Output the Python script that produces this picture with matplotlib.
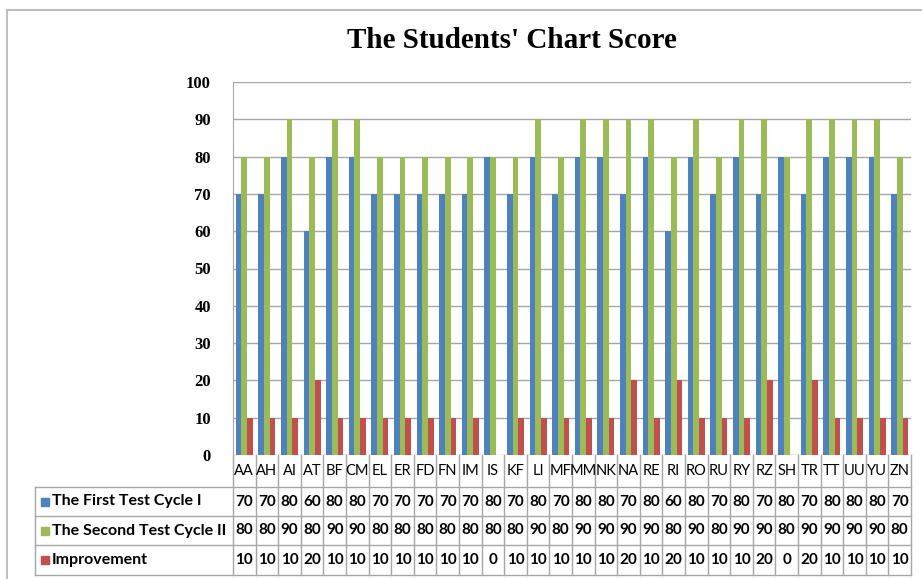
import matplotlib.pyplot as plt
import numpy as np

students = ['AA', 'AH', 'AI', 'AT', 'BF', 'CM', 'EL', 'ER', 'FD', 'FN',
            'IM', 'IS', 'KF', 'LI', 'MF', 'MM', 'NK', 'NA', 'RE', 'RI',
            'RO', 'RU', 'RY', 'RZ', 'SH', 'TR', 'TT', 'UU', 'YU', 'ZN']
first_cycle = [70, 70, 80, 60, 80, 80, 70, 70, 70, 70,
               70, 80, 70, 80, 70, 80, 80, 70, 80, 60,
               80, 70, 80, 70, 80, 70, 80, 80, 80, 70]
second_cycle = [80, 80, 90, 80, 90, 90, 80, 80, 80, 80,
                80, 80, 80, 90, 80, 90, 90, 90, 90, 80,
                90, 80, 90, 90, 80, 90, 90, 90, 90, 80]
improvement = [10, 10, 10, 20, 10, 10, 10, 10, 10, 10,
               10, 0, 10, 10, 10, 10, 10, 20, 10, 20,
               10, 10, 10, 20, 0, 20, 10, 10, 10, 10]
series_names = ['The First Test Cycle I', 'The Second Test Cycle II', 'Improvement']
colors = ['#4F81BD', '#9BBB59', '#C0504D']

W, H = 922, 579
fig = plt.figure(figsize=(W / 100, H / 100), dpi=100)

# chart border (top and left only visible)
fig.add_artist(plt.Line2D([7 / W, 7 / W], [0, 1 - 10 / H], color='#bfbfbf', lw=1.5))
fig.add_artist(plt.Line2D([7 / W, 1], [1 - 10 / H, 1 - 10 / H], color='#bfbfbf', lw=1.5))

left, right = 233 / W, 911 / W
ax = fig.add_axes([left, 1 - 455 / H, right - left, (455 - 82) / H])

x = np.arange(len(students))
bw = 0.25
series = [first_cycle, second_cycle, improvement]
for i, (vals, c) in enumerate(zip(series, colors)):
    ax.bar(x + (i - 1) * bw, vals, width=bw, color=c, zorder=3)

ax.set_xlim(-0.5, len(students) - 0.5)
ax.set_ylim(0, 100)
ax.set_yticks(range(0, 101, 10))
ax.set_yticklabels([str(v) for v in range(0, 101, 10)],
                   fontfamily='Liberation Serif', fontweight='bold', fontsize=12)
ax.tick_params(axis='y', length=0, pad=16)
ax.tick_params(axis='x', length=0, labelbottom=False)
ax.yaxis.grid(True, color='#a6a6a6', lw=1)
for s in ['top', 'right', 'bottom']:
    ax.spines[s].set_visible(False)
ax.spines['left'].set_color('#a6a6a6')

fig.text(512 / W, 1 - 40 / H, "The Students' Chart Score", ha='center', va='center',
         fontfamily='Liberation Serif', fontweight='bold', fontsize=21)

# data table under the chart
tab = fig.add_axes([left, 1 - 575 / H, right - left, 120 / H])
tab.set_xlim(-0.5, len(students) - 0.5)
tab.set_ylim(120, 0)
tab.axis('off')
rows = [0, 32, 61, 90, 120]
line_c = '#a6a6a6'
unit = (right - left) * W / len(students)
x_head = -0.5 - (233 - 35) / unit

for j in range(len(students) + 1):
    tab.plot([j - 0.5, j - 0.5], [0, 120], color=line_c, lw=1, clip_on=False)
for r in rows[1:]:
    tab.plot([x_head, len(students) - 0.5], [r, r], color=line_c, lw=1, clip_on=False)
tab.plot([x_head, x_head], [rows[1], rows[-1]], color=line_c, lw=1, clip_on=False)

for j, s in enumerate(students):
    tab.text(j, 16, s, ha='center', va='center', fontfamily='Lato', fontsize=10.5)

for k, (name, vals, c) in enumerate(zip(series_names, series, colors)):
    yc = (rows[k + 1] + rows[k + 2]) / 2
    sq = 8 / unit
    tab.add_patch(plt.Rectangle((x_head + 6 / unit, yc - 4), sq, 8, color=c, clip_on=False))
    tab.text(x_head + 17 / unit, yc, name, ha='left', va='center',
             fontfamily='Lato', fontweight='bold', fontsize=11.5)
    for j, v in enumerate(vals):
        tab.text(j, yc, str(v), ha='center', va='center',
                 fontfamily='Lato', fontweight='bold', fontsize=11)

fig.savefig('out.png', dpi=100)
